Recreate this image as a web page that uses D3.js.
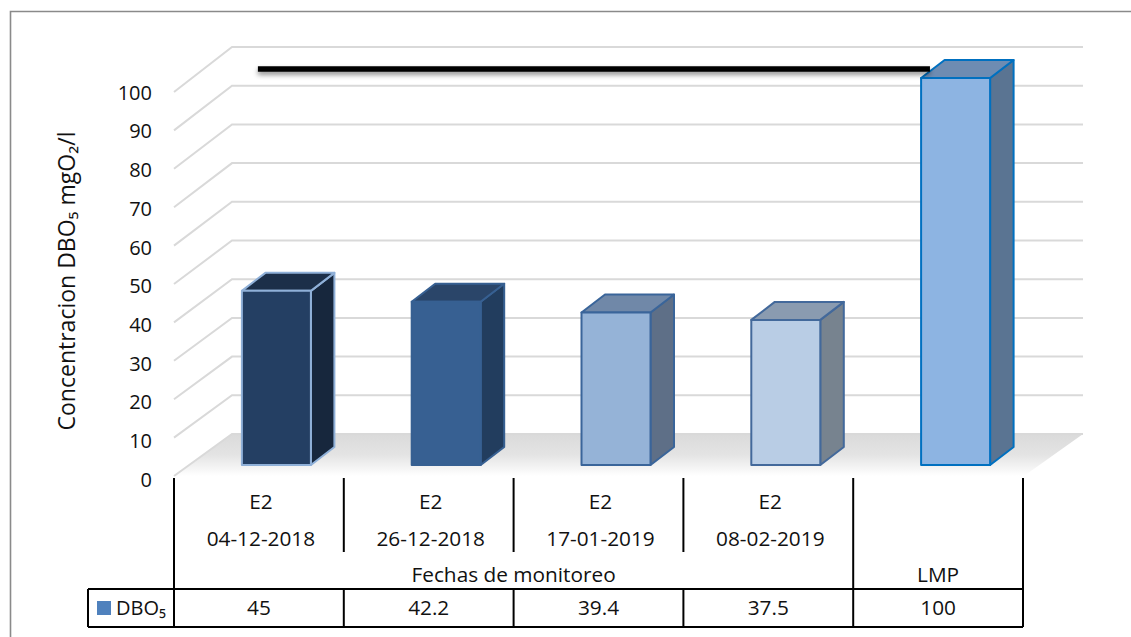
<!DOCTYPE html>
<html><head><meta charset="utf-8">
<script src="https://cdn.jsdelivr.net/npm/d3@7/dist/d3.min.js"></script>
<style>html,body{margin:0;padding:0;background:#fff}svg{display:block}text{font-family:"Open Sans",sans-serif;fill:#111}</style>
</head><body><svg id="c" width="1131" height="637"></svg>
<script>
const categories = ["E2|04-12-2018","E2|26-12-2018","E2|17-01-2019","E2|08-02-2019",""];
const values = [45,42.2,39.4,37.5,100];
const valueLabels = ["45","42.2","39.4","37.5","100"];
const ticks = [0,10,20,30,40,50,60,70,80,90,100];
const limitValue = 102.3;
const limitSpan = [0,3.952];
const groupLabels = [["Fechas de monitoreo",0,4],["LMP",4,5]];
const seriesName = "DBO₅";
const axisTitle = "Concentracion DBO₅ mgO₂/l";
const fronts = ["#243f63","#376092","#95b3d7","#b9cde5","#8db4e2"];
const sides  = ["#17273d","#223d5e","#5e6f87","#77838f","#5a7492"];
const tops   = ["#1c2f49","#2a4569","#7088a8","#8a9bb0","#6e8cb2"];
const edges  = ["#8fb0d8","#376092","#3a659a","#43699b","#0070c0"];

const svg = d3.select("#c");
const defs = svg.append("defs");
const g = defs.append("linearGradient").attr("id","fl").attr("x1",0).attr("y1",0).attr("x2",0).attr("y2",1);
[[0,"#dadada"],[0.5,"#e4e4e4"],[0.82,"#f5f5f5"],[1,"#ffffff"]].forEach(s=>g.append("stop").attr("offset",s[0]).attr("stop-color",s[1]));
const sh = defs.append("filter").attr("id","sh").attr("filterUnits","userSpaceOnUse").attr("x",240).attr("y",50).attr("width",710).attr("height",50);
sh.append("feDropShadow").attr("dx",0).attr("dy",3).attr("stdDeviation",2.5).attr("flood-color","#000").attr("flood-opacity",.45);

// frame
svg.append("path").attr("d","M10.5,637V11.5H1131").attr("fill","none").attr("stroke","#8a8a8a").attr("stroke-width",1.6);

const x = d3.scaleBand().domain(categories).range([174,1023]);
const yFront = d3.scaleLinear().domain([0,100]).range([476,92]);
const yBack = d3.scaleLinear().domain([0,100]).range([434,47]);
const yBar = d3.scaleLinear().domain([0,100]).range([465,78]);
const yLabel = d3.scaleLinear().domain([0,100]).range([479,92]);
const backX = 232, rightX = 1083, frontRight = 1024, depthX = 23.5, depthY = 18;

// floor
svg.append("path").attr("d",`M${x.range()[0]},${yFront(0)}L${backX},${yBack(0)}H${rightX}L${frontRight},${yFront(0)}Z`).attr("fill","url(#fl)");

// gridlines
svg.append("g").selectAll("path").data(ticks).join("path")
  .attr("d",d=>`M${x.range()[0]},${yFront(d)}L${backX},${yBack(d)}H${rightX}`)
  .attr("fill","none").attr("stroke","#d9d9d9").attr("stroke-width",2);

// y axis
const ax = svg.append("g").attr("transform","translate(152,0)")
  .call(d3.axisLeft(yLabel).tickValues(ticks).tickSize(0).tickPadding(0));
ax.select(".domain").remove();
ax.selectAll("text").attr("font-size",20).attr("dy","0.36em").attr("text-anchor","end").style("font-family",'"Open Sans",sans-serif').attr("fill","#111");

svg.append("text").attr("transform","translate(75,281) rotate(-90)").attr("text-anchor","middle")
  .attr("font-size",23).text(axisTitle);

// bars
const barW = 69, shift = 17.5;
const barG = svg.append("g").selectAll("g").data(values).join("g").attr("stroke-width",2).attr("stroke-linejoin","round");
const bx = i => x(categories[i]) + x.step()/2 - barW/2 + shift;
barG.append("path").attr("d",(d,i)=>`M${bx(i)+barW},${yBar(d)}l${depthX},${-depthY}V${yBar(0)-depthY}l${-depthX},${depthY}Z`)
  .attr("fill",(d,i)=>sides[i]).attr("stroke",(d,i)=>edges[i]);
barG.append("path").attr("d",(d,i)=>`M${bx(i)},${yBar(d)}l${depthX},${-depthY}h${barW}l${-depthX},${depthY}Z`)
  .attr("fill",(d,i)=>tops[i]).attr("stroke",(d,i)=>edges[i]);
barG.append("rect").attr("x",(d,i)=>bx(i)).attr("y",d=>yBar(d)).attr("width",barW).attr("height",d=>yBar(0)-yBar(d))
  .attr("fill",(d,i)=>fronts[i]).attr("stroke",(d,i)=>edges[i]);

// limit line
const lx = d3.scaleLinear().domain([0,1]).range([x(categories[0])+x.step()/2, x(categories[1])+x.step()/2]);
svg.append("line").attr("x1",lx(limitSpan[0])-1).attr("x2",lx(limitSpan[1])).attr("y1",yBar(limitValue)).attr("y2",yBar(limitValue))
  .attr("stroke","#000").attr("stroke-width",5.5).attr("filter","url(#sh)");

// data table
const T = {top:478,inner:552,mid:589,bot:627,left:88};
const tbl = svg.append("g").attr("stroke","#000").attr("stroke-width",2).attr("fill","none");
const edgesX = categories.map(c=>x(c)).concat([x.range()[1]]);
edgesX.forEach((ex,i)=>{
  const full = i===0||i>=4;
  tbl.append("line").attr("x1",ex).attr("x2",ex).attr("y1",T.top).attr("y2",full?T.bot:T.inner);
  if(!full) tbl.append("line").attr("x1",ex).attr("x2",ex).attr("y1",T.mid).attr("y2",T.bot);
});
tbl.append("path").attr("d",`M${T.left},${T.mid}H${x.range()[1]}M${T.left},${T.bot}H${x.range()[1]}M${T.left},${T.mid}V${T.bot}`);

const tx = svg.append("g").attr("text-anchor","middle").attr("font-size",20.8);
categories.forEach((c,i)=>{
  if(!c) return;
  const [a,b]=c.split("|"), cx=x(c)+x.step()/2+2;
  tx.append("text").attr("x",cx).attr("y",509).text(a);
  tx.append("text").attr("x",cx).attr("y",545.5).text(b);
});
groupLabels.forEach(([t,a,b])=>{
  tx.append("text").attr("x",(edgesX[a]+edgesX[b])/2).attr("y",582).text(t);
});
valueLabels.forEach((t,i)=>{
  tx.append("text").attr("x",x(categories[i])+x.step()/2).attr("y",614.5).text(t);
});
svg.append("rect").attr("x",97).attr("y",601).attr("width",14).attr("height",14).attr("fill","#4f81bd");
svg.append("text").attr("x",116).attr("y",614.5).attr("font-size",20).text(seriesName);
</script></body></html>
